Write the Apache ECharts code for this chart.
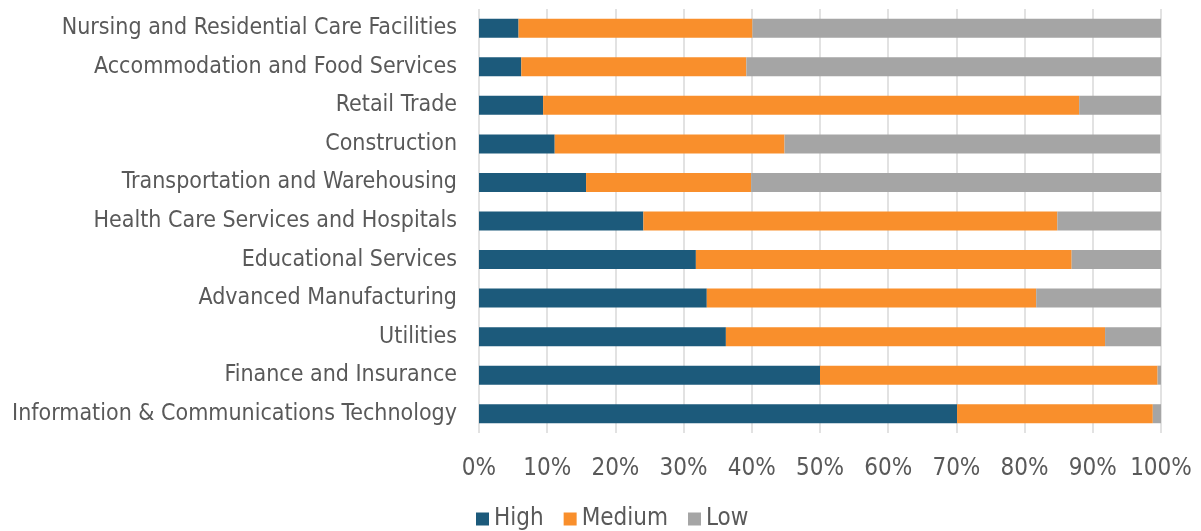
<!DOCTYPE html>
<html>
<head>
<meta charset="utf-8">
<script src="https://cdn.jsdelivr.net/npm/echarts@6/dist/echarts.min.js"></script>
<style>
  html, body { margin: 0; padding: 0; background: #fff; }
  #chart { width: 1201px; height: 531px; }
</style>
</head>
<body>
<div id="chart"></div>
<script>
// bottom to top, as the category axis draws them
const industries = [
  "Information & Communications Technology",
  "Finance and Insurance",
  "Utilities",
  "Advanced Manufacturing",
  "Educational Services",
  "Health Care Services and Hospitals",
  "Transportation and Warehousing",
  "Construction",
  "Retail Trade",
  "Accommodation and Food Services",
  "Nursing and Residential Care Facilities",
];

// shares in percent
const high = [70.1, 50.0, 36.2, 33.4, 31.8, 24.1, 15.7, 11.1, 9.4, 6.2, 5.8];
const medium = [28.7, 49.5, 55.6, 48.3, 55.1, 60.7, 24.2, 33.7, 78.6, 33.0, 34.3];
const low = [1.2, 0.5, 8.2, 18.3, 13.1, 15.2, 60.1, 55.1, 12.0, 60.8, 59.9];

const FONT = "'Liberation Sans Narrow', 'DejaVu Sans Condensed', sans-serif";

const chart = echarts.init(document.getElementById("chart"));

function bar(name, data, color) {
  return {
    name: name,
    type: "bar",
    stack: "total",
    barWidth: 19,
    itemStyle: { color: color },
    data: data,
  };
}

chart.setOption({
  animation: false,
  grid: {
    left: 479,
    right: 40,
    top: 9,
    bottom: 98,
  },
  legend: {
    top: 502,
    left: 471,
    itemWidth: 13,
    itemHeight: 13,
    itemGap: 20,
    icon: "rect",
    textStyle: { fontFamily: FONT, fontSize: 24, color: "#595959" },
    data: ["High", "Medium", "Low"],
  },
  xAxis: {
    type: "value",
    min: 0,
    max: 100,
    interval: 10,
    axisLine: { show: false },
    axisTick: { show: false },
    splitLine: { lineStyle: { color: "#d9d9d9", width: 1.5 } },
    axisLabel: {
      formatter: "{value}%",
      fontFamily: FONT,
      fontSize: 24,
      color: "#595959",
      margin: 24,
    },
  },
  yAxis: {
    type: "category",
    data: industries,
    axisLine: { show: false },
    axisTick: { show: false },
    axisLabel: {
      fontFamily: FONT,
      fontSize: 23,
      color: "#595959",
      margin: 22,
    },
  },
  series: [
    bar("High", high, "#1c5a7b"),
    bar("Medium", medium, "#f98f2c"),
    bar("Low", low, "#a5a5a5"),
  ],
});
</script>
</body>
</html>
